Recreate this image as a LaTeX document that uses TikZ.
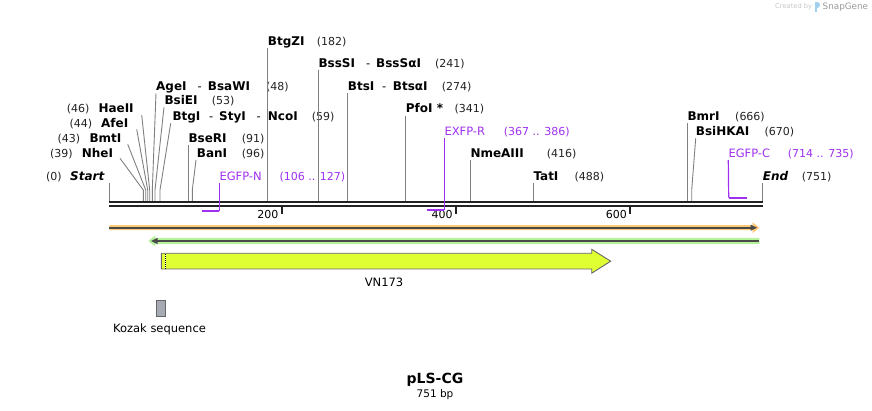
\documentclass[tikz,border=0pt]{standalone}
\usepackage{fontspec}
\setmainfont{DejaVu Sans}
\definecolor{cutline}{HTML}{808080}
\definecolor{primer}{HTML}{A030F0}
\definecolor{bb}{HTML}{222222}
\definecolor{orangeF}{HTML}{FFC875}
\definecolor{greenF}{HTML}{B5F29A}
\definecolor{darkF}{HTML}{4A4A4A}
\definecolor{vnF}{HTML}{DFFF33}
\definecolor{vnS}{HTML}{666666}
\definecolor{kozF}{HTML}{A6AAB2}
\definecolor{logoC}{HTML}{9FD0F0}
\begin{document}
\begin{tikzpicture}[x=1pt,y=-1pt,
  lbl/.style={anchor=base west, inner sep=0pt, yshift=-4pt, text height=8.5pt, text depth=2.5pt, font=\fontsize{11}{13}\selectfont},
  num/.style={lbl, text=bb},
  enz/.style={lbl, font=\fontsize{12}{13}\selectfont\bfseries},
  ends/.style={lbl, font=\fontsize{12}{13}\selectfont\bfseries\itshape},
  hy/.style={lbl, font=\fontsize{11.5}{13}\selectfont},
  prm/.style={lbl, text=primer, font=\fontsize{11.5}{13}\selectfont},
  prmn/.style={lbl, text=primer},
  cut/.style={draw=cutline, line width=0.9pt},
  pline/.style={draw=primer, line width=1.2pt},
  pbind/.style={draw=primer, line width=2.2pt},
  ticklbl/.style={anchor=east, inner sep=0pt, font=\fontsize{11}{13}\selectfont},
  feat/.style={inner sep=0pt, font=\fontsize{11.5}{13}\selectfont}
]
\useasboundingbox (0,0) rectangle (872,411);

% ---------- backbone ----------
\draw[bb, line width=2.7pt] (109,202) -- (763,202);
\draw[bb, line width=2.7pt] (109,206) -- (763,206);
\draw[bb, line width=2pt] (281.7,207) -- (281.7,214);
\draw[bb, line width=2pt] (456,207) -- (456,214);
\draw[bb, line width=2pt] (630.3,207) -- (630.3,214);
\node[ticklbl] (t200) at (278.5,214.5) {200};
\node[ticklbl] (t400) at (452.8,214.5) {400};
\node[ticklbl] (t600) at (627,214.5) {600};

% ---------- cut site coordinates ----------
\foreach \n/\x in {start/109.3, nheI/143.3, bmtI/145.7, afeI/147.7, haeII/149.7, ageI/152.3, bsiEI/155, btgI/160,
  bseRI/188.3, banI/192.3, btgZI/267.7, bssSI/318.3, btsI/347.7, pfoI/405.7, nmeAIII/470.3, tatI/533.3,
  bmrI/687.3, bsiHKAI/691.7, endc/762.7}{
  \coordinate (\n c) at (\x,201);
  \coordinate (\n k) at (\x,190);
}

% ---------- enzyme labels ----------
\node[num] (n0) at (46,176.7) {(0)};
\node[ends] (start) at (70,176.7) {Start};
\node[num] (n39) at (50,154) {(39)};
\node[enz] (nheI) at (81.7,154) {NheI};
\node[num] (n43) at (57.3,139) {(43)};
\node[enz] (bmtI) at (89.3,139) {BmtI};
\node[num] (n44) at (69.3,124) {(44)};
\node[enz] (afeI) at (101,124) {AfeI};
\node[num] (n46) at (66.7,108.3) {(46)};
\node[enz] (haeII) at (98.3,108.3) {HaeII};

\node[enz] (ageI) at (156,86.7) {AgeI};
\node[hy] (ageIh) at (197.5,86.7) {-};
\node[enz] (bsaWI) at (207.7,86.7) {BsaWI};
\node[num] (n48) at (266,86.7) {(48)};
\node[enz] (bsiEI) at (164.3,101) {BsiEI};
\node[num] (n53) at (211.7,101) {(53)};
\node[enz] (btgI) at (172.3,116.7) {BtgI};
\node[hy] (btgIh) at (209,116.7) {-};
\node[enz] (styI) at (219,116.7) {StyI};
\node[hy] (styIh) at (256.5,116.7) {-};
\node[enz] (ncoI) at (267.7,116.7) {NcoI};
\node[num] (n59) at (311.7,116.7) {(59)};
\node[enz] (bseRI) at (188.3,138.3) {BseRI};
\node[num] (n91) at (241.7,138.3) {(91)};
\node[enz] (banI) at (196.7,154) {BanI};
\node[num] (n96) at (241.7,154) {(96)};

\node[enz] (btgZI) at (267.7,41.7) {BtgZI};
\node[num] (n182) at (316.7,41.7) {(182)};
\node[enz] (bssSI) at (318.3,63.3) {BssSI};
\node[hy] (bssSIh) at (366,63.3) {-};
\node[enz] (bssSaI) at (376,63.3) {BssSαI};
\node[num] (n241) at (435,63.3) {(241)};
\node[enz] (btsI) at (347.7,86.7) {BtsI};
\node[hy] (btsIh) at (382,86.7) {-};
\node[enz] (btsaI) at (392.7,86.7) {BtsαI};
\node[num] (n274) at (441.7,86.7) {(274)};
\node[enz] (pfoI) at (405.7,109) {PfoI *};
\node[num] (n341) at (454.3,109) {(341)};
\node[enz] (nmeAIII) at (470.3,153.7) {NmeAIII};
\node[num] (n416) at (546.7,153.7) {(416)};
\node[enz] (tatI) at (533.3,176.7) {TatI};
\node[num] (n488) at (574.3,176.7) {(488)};
\node[enz] (bmrI) at (687.3,116.7) {BmrI};
\node[num] (n666) at (735,116.7) {(666)};
\node[enz] (bsiHKAI) at (695.7,131.7) {BsiHKAI};
\node[num] (n670) at (764.3,131.7) {(670)};
\node[ends] (endl) at (762.7,176.7) {End};
\node[num] (n751) at (801.7,176.7) {(751)};

% ---------- straight cut lines ----------
\foreach \n/\l in {start/start, bseRI/bseRI, btgZI/btgZI, bssSI/bssSI, btsI/btsI, pfoI/pfoI,
  nmeAIII/nmeAIII, tatI/tatI, bmrI/bmrI, endc/endl}{
  \draw[cut] (\n c) -- (\n c |- \l.south);
}

% ---------- angled cut lines ----------
\coordinate (nheIt) at (120,158.3);
\coordinate (bmtIt) at (127.7,144.3);
\coordinate (afeIt) at (136.7,129.3);
\coordinate (haeIIt) at (141.7,115);
\coordinate (ageIt) at (156,93.3);
\coordinate (bsiEIt) at (164,107.3);
\coordinate (btgIt) at (170.7,123.3);
\coordinate (banIt) at (196,160);
\coordinate (bsiHKAIt) at (695.7,138.3);
\foreach \n in {nheI, bmtI, afeI, haeII, ageI, bsiEI, btgI, banI, bsiHKAI}{
  \draw[cut] (\n c) -- (\n k) -- (\n t);
}

% ---------- primers ----------
\node[prm] (egfpN) at (219.3,176.7) {EGFP-N};
\node[prmn] (egfpNn) at (279.3,176.7) {(106 .. 127)};
\coordinate (egfpNa) at (219.3,210.7);
\coordinate (egfpNb) at (201.7,210.7);
\draw[pline] (egfpN.south west) -- (egfpNa);
\draw[pbind] (egfpNa) -- (egfpNb);

\node[prm] (exfpR) at (444.3,131.7) {EXFP-R};
\node[prmn] (exfpRn) at (503.7,131.7) {(367 .. 386)};
\coordinate (exfpRa) at (444.3,210.3);
\coordinate (exfpRb) at (427.3,210.3);
\draw[pline] (exfpR.south west) -- (exfpRa);
\draw[pbind] (exfpRa) -- (exfpRb);

\node[prm] (egfpC) at (728.3,153.3) {EGFP-C};
\node[prmn] (egfpCn) at (787.7,153.3) {(714 .. 735)};
\coordinate (egfpCa) at (728.7,197.7);
\coordinate (egfpCb) at (746.7,197.7);
\draw[pline] (egfpC.south west) -- (egfpCa);
\draw[pbind] (egfpCa) -- (egfpCb);

% ---------- features ----------
\fill[orangeF] (109.3,225.2) -- (752.7,225.2) -- (752.7,222.3) -- (759.3,227.7) -- (752.7,233.1) -- (752.7,230.2) -- (109.3,230.2) -- cycle;
\draw[darkF, line width=1.8pt] (109.3,227.7) -- (752,227.7);
\fill[darkF] (750.5,224.6) -- (757,227.7) -- (750.5,230.8) -- cycle;

\fill[greenF] (759.3,237.9) -- (155,237.9) -- (155,235.6) -- (148.3,241) -- (155,246.4) -- (155,244.1) -- (759.3,244.1) -- cycle;
\draw[darkF, line width=1.8pt] (156,241) -- (759.3,241);
\fill[darkF] (157.5,237.9) -- (151,241) -- (157.5,244.1) -- cycle;

\draw[vnS, fill=vnF, line width=0.9pt] (161.3,253.3) -- (591.7,253.3) -- (591.7,249.3) -- (610.7,261.2) -- (591.7,273.2) -- (591.7,269) -- (161.3,269) -- cycle;
\draw[white, line width=1pt] (165.7,253.8) -- (165.7,268.5);
\draw[black, line width=1pt, dash pattern=on 1pt off 1pt] (165.7,253.8) -- (165.7,268.5);
\node[feat] (vn) at (384,282.5) {VN173};

\draw[vnS, fill=kozF, line width=0.9pt] (156,300.3) rectangle (165.7,316.3);
\node[feat] (koz) at (159.5,329.5) {Kozak sequence};

% ---------- title ----------
\node[inner sep=0pt, font=\fontsize{14}{16}\selectfont\bfseries] (title) at (435,380) {pLS-CG};
\node[inner sep=0pt, font=\fontsize{10.5}{12}\selectfont] (bp) at (435,395) {751 bp};

% ---------- watermark ----------
\node[anchor=east, inner sep=0pt, text=black!22, font=\fontsize{6.7}{8}\selectfont] (created) at (812.3,7) {Created by};
\fill[logoC] (814.5,2.5) rectangle (816.8,12);
\fill[logoC] (816.8,2.5) .. controls (821,2.5) and (821,8) .. (816.8,8) -- cycle;
\node[anchor=west, inner sep=0pt, text=black!40, font=\fontsize{8.8}{10}\selectfont] (snapgene) at (822.5,7) {SnapGene};
\end{tikzpicture}
\end{document}
